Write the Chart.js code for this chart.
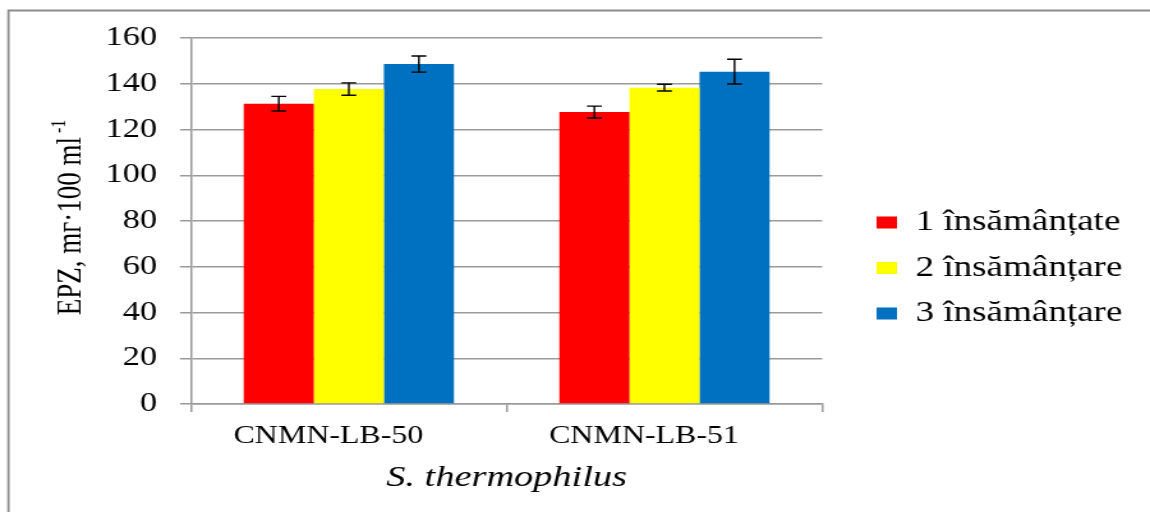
<!DOCTYPE html>
<html>
<head>
<meta charset="utf-8">
<script src="https://cdn.jsdelivr.net/npm/chart.js@4/dist/chart.umd.min.js"></script>
<style>
  html, body { margin: 0; padding: 0; background: #fff; overflow: hidden; }
</style>
</head>
<body>
<canvas id="c" width="900" height="512" style="display:block;width:1150px;height:512px"></canvas>
<script>
// Strains and inoculation series
const categories = ['CNMN-LB-50', 'CNMN-LB-51'];
const seriesNames = ['1 însămânțate', '2 însămânțare', '3 însămânțare'];
const series1 = [131.3, 127.6];
const series2 = [137.7, 138.3];
const series3 = [148.6, 145.3];
const errors1 = [3.2, 2.6];
const errors2 = [2.7, 1.5];
const errors3 = [3.5, 5.4];
const yTicks = [0, 20, 40, 60, 80, 100, 120, 140, 160];

const FONT = "'Liberation Serif', 'Times New Roman', serif";
const GRID = '#9a9a9a';

// Symmetric error bars drawn over each bar through the y scale
const errorBars = {
  id: 'errorBars',
  afterDatasetsDraw(chart) {
    const ctx = chart.ctx;
    const y = chart.scales.y;
    ctx.save();
    ctx.strokeStyle = '#000';
    ctx.lineWidth = 1.4;
    chart.data.datasets.forEach((ds, i) => {
      const meta = chart.getDatasetMeta(i);
      meta.data.forEach((bar, j) => {
        const v = ds.data[j], e = ds.errors[j];
        const top = y.getPixelForValue(v + e);
        const bot = y.getPixelForValue(v - e);
        const half = 5.8;
        ctx.beginPath();
        ctx.moveTo(bar.x, top); ctx.lineTo(bar.x, bot);
        ctx.moveTo(bar.x - half, top); ctx.lineTo(bar.x + half, top);
        ctx.moveTo(bar.x - half, bot); ctx.lineTo(bar.x + half, bot);
        ctx.stroke();
      });
    });
    ctx.restore();
  }
};

// Moves the legend block a little away from the plot area
const legendShift = {
  id: 'legendShift',
  afterLayout(chart) {
    const lg = chart.legend;
    if (!lg) return;
    lg.left += 26; lg.right += 26;
    lg.top -= 7; lg.bottom -= 7;
  }
};

// Frame lines and the rotated y-axis title with a superscript unit
const decorations = {
  id: 'decorations',
  beforeDraw(chart) {
    const ctx = chart.ctx;
    ctx.save();
    ctx.strokeStyle = '#8c8c8c';
    ctx.lineWidth = 1.8;
    ctx.beginPath();
    ctx.moveTo(6.6, chart.height);
    ctx.lineTo(6.6, 10.5);
    ctx.lineTo(chart.width, 10.5);
    ctx.stroke();
    ctx.restore();
  },
  afterDraw(chart) {
    const ctx = chart.ctx;
    const area = chart.chartArea;
    const main = 'EPZ, mг·100 ml';
    const sup = '-1';
    ctx.save();
    ctx.fillStyle = '#000';
    ctx.font = '27px ' + FONT;
    const w = ctx.measureText(main).width;
    ctx.font = '16px ' + FONT;
    const ws = ctx.measureText(sup).width;
    const total = w + 4 + ws;
    ctx.translate(54.4, (area.top + area.bottom) / 2 - 3.5);
    ctx.rotate(-Math.PI / 2);
    ctx.textBaseline = 'alphabetic';
    ctx.textAlign = 'left';
    ctx.font = '27px ' + FONT;
    ctx.fillText(main, -total / 2, 9);
    ctx.font = '16px ' + FONT;
    ctx.fillText(sup, -total / 2 + w + 4, -3);
    ctx.restore();
  }
};

const colors = ['#ff0000', '#ffff00', '#0070c0'];
const values = [series1, series2, series3];
const errs = [errors1, errors2, errors3];

new Chart(document.getElementById('c'), {
  type: 'bar',
  data: {
    labels: categories,
    datasets: seriesNames.map((name, i) => ({
      label: name,
      data: values[i],
      errors: errs[i],
      backgroundColor: colors[i],
      borderWidth: 0,
      categoryPercentage: 0.666,
      barPercentage: 1.0
    }))
  },
  options: {
    responsive: false,
    animation: false,
    devicePixelRatio: 1,
    layout: { padding: { left: 0, top: 38, right: 42, bottom: 0 } },
    plugins: {
      legend: {
        position: 'right',
        align: 'center',
        labels: {
          font: { family: FONT, size: 29 },
          color: '#000',
          boxWidth: 16,
          boxHeight: 12,
          padding: 16.5
        }
      },
      tooltip: { enabled: false }
    },
    scales: {
      x: {
        offset: true,
        grid: { offset: true, drawOnChartArea: false, drawTicks: true, tickLength: 8, color: GRID, lineWidth: 1.5 },
        border: { color: GRID, width: 1.5 },
        ticks: { font: { family: FONT, size: 25 }, color: '#000', padding: 9, labelOffset: -16, maxRotation: 0, autoSkip: false },
        title: { display: true, text: 'S. thermophilus', font: { family: FONT, size: 30, style: 'italic' }, color: '#000', padding: { top: 0, bottom: 16 } },
        afterFit: s => { s.height = 108; }
      },
      y: {
        min: 0,
        max: 160,
        afterBuildTicks: s => { s.ticks = yTicks.map(v => ({ value: v })); },
        grid: { color: GRID, lineWidth: 1.5, tickLength: 8.6 },
        border: { color: GRID, width: 1.5 },
        ticks: { font: { family: FONT, size: 27 }, color: '#000', padding: 18 },
        afterFit: s => { s.width = 149.5; }
      }
    }
  },
  plugins: [errorBars, legendShift, decorations]
});
</script>
</body>
</html>
